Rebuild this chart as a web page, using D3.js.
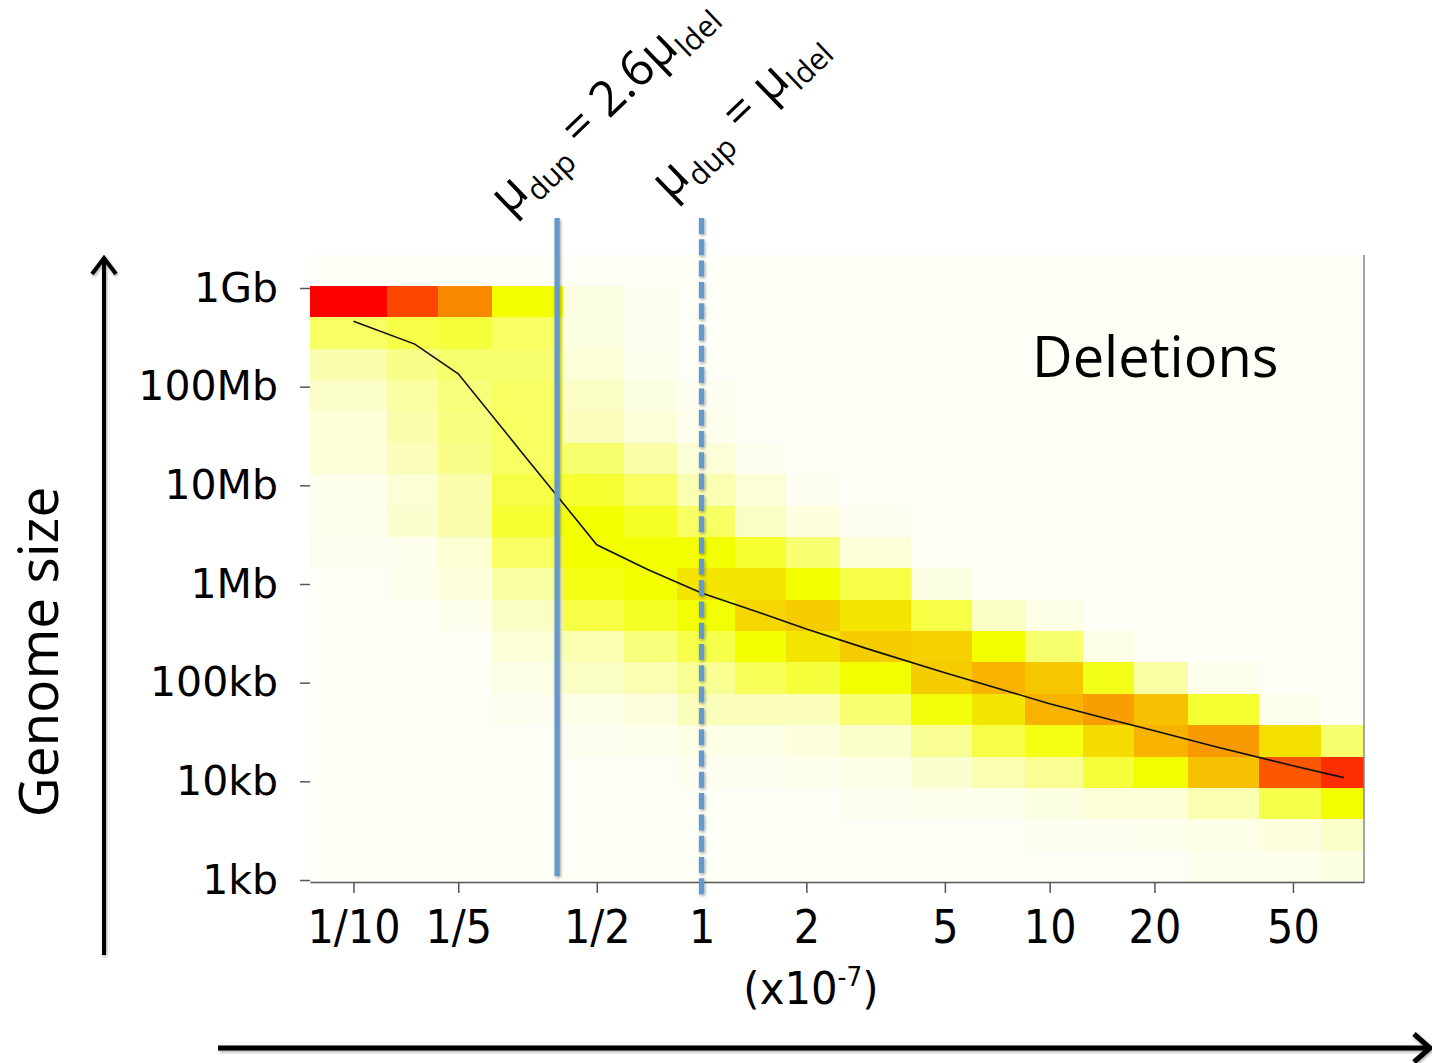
<!DOCTYPE html>
<html lang="en">
<head>
<meta charset="UTF-8">
<title>Deletions: genome size vs duplication rate</title>
<script src="https://d3js.org/d3.v7.min.js"></script>
<style>
  body { margin: 0; background: #fff; }
</style>
</head>
<body>
<svg id="chart" width="1432" height="1063"></svg>
<script>
// duplication rate of each heatmap column (x10^-7)
const rates = [0.1, 0.15, 0.2, 0.3, 0.5, 0.7, 1, 1.5, 2, 3, 5, 7, 10, 15, 20, 30, 50, 70];

// mean genome size (bp) along the black line, one per column
const meanSize = [4.6e8, 2.7e8, 1.35e8, 2.3e7, 2.5e6, 1.4e6, 8.1e5, 5.0e5, 3.5e5, 2.2e5,
                  1.26e5, 8.9e4, 6.1e4, 4.2e4, 3.25e4, 2.24e4, 1.44e4, 1.09e4];

// heat per column (0 = none, 1 = max), rows from the largest genome bin down
const heat = [
  [1.00, 0.30, 0.15, 0.09, 0.06, 0.06, 0.02, 0.02, 0.01, 0, 0, 0, 0, 0, 0, 0, 0, 0, 0],
  [0.86, 0.36, 0.22, 0.17, 0.15, 0.12, 0.07, 0.08, 0.02, 0.02, 0, 0, 0, 0, 0, 0, 0, 0, 0],
  [0.73, 0.38, 0.28, 0.25, 0.24, 0.22, 0.15, 0.15, 0.07, 0.05, 0.02, 0, 0, 0, 0, 0, 0, 0, 0],
  [0.50, 0.30, 0.28, 0.30, 0.30, 0.30, 0.36, 0.40, 0.30, 0.17, 0.10, 0.06, 0.03, 0.01, 0, 0, 0, 0, 0],
  [0.04, 0.04, 0.06, 0.10, 0.12, 0.28, 0.40, 0.50, 0.50, 0.46, 0.36, 0.14, 0.10, 0.03, 0.01, 0, 0, 0, 0],
  [0.01, 0.01, 0.02, 0.04, 0.06, 0.16, 0.30, 0.42, 0.50, 0.50, 0.42, 0.25, 0.14, 0.05, 0.02, 0, 0, 0, 0],
  [0, 0, 0, 0.01, 0.02, 0.06, 0.14, 0.30, 0.50, 0.55, 0.50, 0.35, 0.20, 0.12, 0.03, 0.01, 0, 0, 0],
  [0, 0, 0, 0, 0, 0.01, 0.06, 0.10, 0.40, 0.55, 0.58, 0.50, 0.32, 0.12, 0.03, 0.01, 0, 0, 0],
  [0, 0, 0, 0, 0, 0, 0.01, 0.05, 0.27, 0.50, 0.60, 0.55, 0.38, 0.12, 0.05, 0.02, 0, 0, 0],
  [0, 0, 0, 0, 0, 0, 0, 0.01, 0.06, 0.36, 0.55, 0.60, 0.50, 0.27, 0.09, 0.03, 0.01, 0, 0],
  [0, 0, 0, 0, 0, 0, 0, 0, 0, 0.04, 0.36, 0.59, 0.60, 0.48, 0.20, 0.08, 0.02, 0, 0],
  [0, 0, 0, 0, 0, 0, 0, 0, 0, 0, 0.10, 0.50, 0.65, 0.55, 0.36, 0.14, 0.02, 0, 0],
  [0, 0, 0, 0, 0, 0, 0, 0, 0, 0, 0.03, 0.28, 0.61, 0.65, 0.46, 0.20, 0.04, 0.01, 0],
  [0, 0, 0, 0, 0, 0, 0, 0, 0, 0, 0, 0.03, 0.45, 0.69, 0.57, 0.38, 0.06, 0.01, 0],
  [0, 0, 0, 0, 0, 0, 0, 0, 0, 0, 0, 0, 0.17, 0.62, 0.65, 0.50, 0.06, 0.02, 0],
  [0, 0, 0, 0, 0, 0, 0, 0, 0, 0, 0, 0, 0.02, 0.40, 0.70, 0.62, 0.14, 0.03, 0.02],
  [0, 0, 0, 0, 0, 0, 0, 0, 0, 0, 0, 0, 0, 0.02, 0.56, 0.83, 0.35, 0.05, 0.02],
  [0, 0, 0, 0, 0, 0, 0, 0, 0, 0, 0, 0, 0, 0, 0.28, 0.91, 0.50, 0.09, 0.04]
];

const xTicks = [0.1, 0.2, 0.5, 1, 2, 5, 10, 20, 50];
const xTickLabels = ["1/10", "1/5", "1/2", "1", "2", "5", "10", "20", "50"];
const yTicks = [1e3, 1e4, 1e5, 1e6, 1e7, 1e8, 1e9];
const yTickLabels = ["1kb", "10kb", "100kb", "1Mb", "10Mb", "100Mb", "1Gb"];

// vertical reference lines: mu_dup = 2.6 mu_ldel and mu_dup = mu_ldel
const markerRates = [1 / 2.6, 1];

const svg = d3.select("#chart");
const nRows = heat[0].length;

const x = d3.scaleLog().domain([0.075, 80]).range([310, 1364]);
const y = d3.scaleLog().domain([1e3, 1e9]).range([880, 288]);
const plotTop = 255, plotBottom = 882;

// rows are equal bins in log genome size
const rowBand = d3.scaleBand()
  .domain(d3.range(nRows))
  .range([y(10 ** 9.02), y(10 ** 2.98)]);

const color = d3.scaleLinear()
  .domain([0, 0.5, 1])
  .range(["#fdfef5", "#f3ff00", "#ff0000"])
  .clamp(true);

// column edges at midpoints between neighbouring rates
const colEdges = rates.map((r, i) => {
  const lo = i === 0 ? r - (rates[1] - r) / 2 : (rates[i - 1] + r) / 2;
  const hi = i === rates.length - 1 ? r + (r - rates[i - 1]) / 2 : (r + rates[i + 1]) / 2;
  return [lo, hi];
});

const defs = svg.append("defs");
const f = defs.append("filter").attr("id", "shadow")
  .attr("filterUnits", "userSpaceOnUse")
  .attr("x", 0).attr("y", 0).attr("width", 1432).attr("height", 1063);
f.append("feDropShadow").attr("dx", 1).attr("dy", 1.5)
  .attr("stdDeviation", 1.6).attr("flood-color", "#000").attr("flood-opacity", 0.35);

// plot background
svg.append("rect")
  .attr("x", x(0.075)).attr("y", plotTop)
  .attr("width", x(80) - x(0.075)).attr("height", plotBottom - plotTop)
  .attr("fill", "#fdfef5");

// heatmap cells
const cells = [];
heat.forEach((col, c) => col.forEach((v, r) => cells.push({ c, r, v })));

svg.append("g")
  .selectAll("rect")
  .data(cells)
  .join("rect")
  .attr("x", d => x(colEdges[d.c][0]))
  .attr("width", d => x(colEdges[d.c][1]) - x(colEdges[d.c][0]))
  .attr("y", d => rowBand(d.r))
  .attr("height", rowBand.bandwidth())
  .attr("fill", d => color(d.v))
  .attr("shape-rendering", "crispEdges");

// right frame line
svg.append("line")
  .attr("x1", x(80)).attr("x2", x(80))
  .attr("y1", plotTop).attr("y2", plotBottom)
  .attr("stroke", "#888").attr("stroke-width", 1.5);

// trend line
svg.append("path")
  .datum(rates.map((r, i) => [r, meanSize[i]]))
  .attr("fill", "none")
  .attr("stroke", "#111")
  .attr("stroke-width", 1.6)
  .attr("d", d3.line().x(d => x(d[0])).y(d => y(d[1])));

// x axis
const xAxis = svg.append("g")
  .attr("transform", `translate(0,${plotBottom})`)
  .call(d3.axisBottom(x).tickValues(xTicks)
    .tickFormat((d, i) => xTickLabels[i]).tickSize(11).tickPadding(17).tickSizeOuter(0));
xAxis.select(".domain").attr("stroke", "#555").attr("stroke-width", 1.5);
xAxis.selectAll(".tick line").attr("stroke", "#555").attr("stroke-width", 1.5);
xAxis.selectAll(".tick text")
  .attr("font-family", "DejaVu Sans").attr("font-size", 46).attr("fill", "#000")
  .attr("transform", "scale(0.9,1)");

// y axis
const yAxis = svg.append("g")
  .attr("transform", `translate(${x(0.075)},0)`)
  .call(d3.axisLeft(y).tickValues(yTicks)
    .tickFormat((d, i) => yTickLabels[i]).tickSize(10).tickPadding(22));
yAxis.select(".domain").remove();
yAxis.selectAll(".tick line").attr("stroke", "#555").attr("stroke-width", 1.5);
yAxis.selectAll(".tick text")
  .attr("font-family", "DejaVu Sans").attr("font-size", 41).attr("fill", "#000");

// reference lines
svg.append("g")
  .attr("filter", "url(#shadow)")
  .selectAll("line")
  .data(markerRates)
  .join("line")
  .attr("x1", d => x(d)).attr("x2", d => x(d))
  .attr("y1", 218)
  .attr("y2", (d, i) => i === 0 ? 876 : 895)
  .attr("stroke", "#6399cc")
  .attr("stroke-width", 5.3)
  .attr("stroke-dasharray", (d, i) => i === 0 ? null : "16,5.3");

// rotated formula labels
const formulas = [
  { at: [509, 216], parts: [["μ", 0], ["dup", 1], [" = 2.6", 0], ["μ", 0], ["ldel", 1]] },
  { at: [670, 201], parts: [["μ", 0], ["dup", 1], [" = ", 0], ["μ", 0], ["ldel", 1]] }
];
formulas.forEach(fm => {
  const t = svg.append("text")
    .attr("transform", `translate(${fm.at[0]},${fm.at[1]}) rotate(-44)`)
    .attr("font-family", "Open Sans").attr("fill", "#000");
  let prevSub = 0;
  fm.parts.forEach(([s, sub]) => {
    t.append("tspan")
      .attr("font-size", sub ? 30 : 49)
      .attr("dy", sub === prevSub ? 0 : (sub ? 11 : -11))
      .style("white-space", "pre")
      .text(s);
    prevSub = sub;
  });
});

// Deletions label
svg.append("text")
  .attr("x", 1032).attr("y", 377)
  .attr("font-family", "Open Sans").attr("font-size", 56)
  .text("Deletions");

// x unit label
const unit = svg.append("text")
  .attr("x", 811).attr("y", 1004)
  .attr("text-anchor", "middle")
  .attr("font-family", "DejaVu Sans").attr("font-size", 44)
  .attr("transform", "translate(40.5,0) scale(0.95,1)");
unit.append("tspan").text("(x10");
unit.append("tspan").attr("font-size", 26).attr("dy", -18).text("-7");
unit.append("tspan").attr("dy", 18).text(")");

// y axis title
svg.append("text")
  .attr("transform", "translate(58,652) rotate(-90)")
  .attr("text-anchor", "middle")
  .attr("font-family", "Open Sans").attr("font-size", 55)
  .text("Genome size");

// arrows
const arrows = svg.append("g")
  .attr("fill", "none").attr("stroke", "#000")
  .attr("filter", "url(#shadow)");
arrows.append("line").attr("x1", 104).attr("x2", 104).attr("y1", 955).attr("y2", 259)
  .attr("stroke-width", 4);
arrows.append("path").attr("d", "M92,274 L104,258 L116,274").attr("stroke-width", 4);
arrows.append("line").attr("x1", 218).attr("x2", 1429).attr("y1", 1048).attr("y2", 1048)
  .attr("stroke-width", 5);
arrows.append("path").attr("d", "M1414,1034 L1430,1048 L1414,1062").attr("stroke-width", 5);
</script>
</body>
</html>
